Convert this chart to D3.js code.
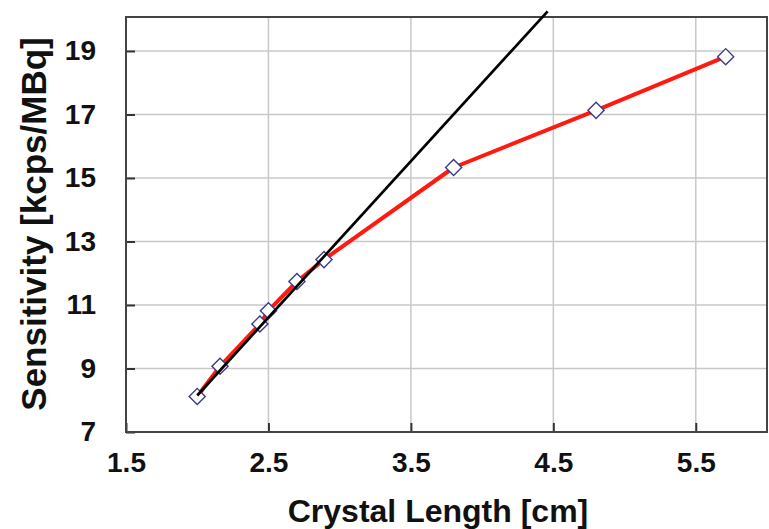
<!DOCTYPE html>
<html><head><meta charset="utf-8">
<script src="https://cdn.jsdelivr.net/npm/d3@7"></script>
<style>html,body{margin:0;padding:0;background:#fff;}svg{display:block;}</style>
</head><body>
<svg id="chart" width="769" height="529"></svg>
<script>
// Data
const crystalLength = [2.0, 2.16, 2.44, 2.5, 2.7, 2.89, 3.8, 4.8, 5.71];
const sensitivity   = [8.12, 9.07, 10.4, 10.82, 11.74, 12.43, 15.33, 17.13, 18.82];
const fitX = [2.0, 4.46];
const fitY = [8.15, 20.25];
const xTicks = [1.5, 2.5, 3.5, 4.5, 5.5];
const yTicks = [7, 9, 11, 13, 15, 17, 19];
const xTitle = "Crystal Length [cm]";
const yTitle = "Sensitivity [kcps/MBq]";

const svg = d3.select("#chart");
const L = 126, R = 767, T = 17, B = 432;
const x = d3.scaleLinear().domain([1.5, 6.0]).range([L, R]);
const y = d3.scaleLinear().domain([7, 20.07]).range([B, T]);

// grid
svg.append("g").selectAll("line").data(yTicks.filter(d => d > 7)).join("line")
  .attr("x1", L).attr("x2", R).attr("y1", d => y(d)).attr("y2", d => y(d))
  .attr("stroke", "#c8c8c8").attr("stroke-width", 1.5);
svg.append("g").selectAll("line").data(xTicks.filter(d => d > 1.5)).join("line")
  .attr("y1", T).attr("y2", B).attr("x1", d => x(d)).attr("x2", d => x(d))
  .attr("stroke", "#c8c8c8").attr("stroke-width", 1.5);

// axes with inner ticks
const font = "'Liberation Sans', Arial, sans-serif";
const xAxis = svg.append("g").attr("transform", `translate(0,${B})`)
  .call(d3.axisBottom(x).tickValues(xTicks).tickSizeInner(-9).tickSizeOuter(0).tickPadding(34).tickFormat(d3.format(".1f")));
const yAxis = svg.append("g").attr("transform", `translate(${L},0)`)
  .call(d3.axisLeft(y).tickValues(yTicks).tickSizeInner(-9).tickSizeOuter(0).tickPadding(30).tickFormat(d3.format("d")));
[xAxis, yAxis].forEach(a => {
  a.select(".domain").remove();
  a.selectAll(".tick line").attr("stroke", "#333").attr("stroke-width", 2);
  a.selectAll(".tick text").attr("fill", "#111").style("font-family", font)
    .style("font-weight", "bold").style("font-size", "28px");
});
xAxis.selectAll(".tick text").attr("dy", "0.2em");
// frame
svg.append("rect").attr("x", L).attr("y", T).attr("width", R - L).attr("height", B - T)
  .attr("fill", "none").attr("stroke", "#444").attr("stroke-width", 2);

// red series
const line = d3.line().x(d => x(d[0])).y(d => y(d[1]));
const pts = crystalLength.map((c, i) => [c, sensitivity[i]]);
svg.append("path").datum(pts).attr("d", line)
  .attr("fill", "none").attr("stroke", "#ff1a10").attr("stroke-width", 4).attr("stroke-linejoin", "round");
// markers
svg.append("g").selectAll("path").data(pts).join("path")
  .attr("d", d3.symbol().type(d3.symbolSquare).size(130))
  .attr("transform", d => `translate(${x(d[0])},${y(d[1])}) rotate(45)`)
  .attr("fill", "#fff").attr("stroke", "#3b3b8c").attr("stroke-width", 1.4);
// black fit line
const fit = fitX.map((c, i) => [c, fitY[i]]);
svg.append("path").datum(fit).attr("d", line)
  .attr("fill", "none").attr("stroke", "#000").attr("stroke-width", 2.7);

// titles
svg.append("text").attr("x", 438).attr("y", 522).attr("text-anchor", "middle")
  .style("font-family", font).style("font-weight", "bold").style("font-size", "32px").attr("fill", "#111")
  .text(xTitle);
svg.append("text").attr("transform", "translate(46,224) rotate(-90)").attr("text-anchor", "middle")
  .style("font-family", font).style("font-weight", "bold").style("font-size", "35px").attr("fill", "#111")
  .text(yTitle);
</script>
</body></html>
